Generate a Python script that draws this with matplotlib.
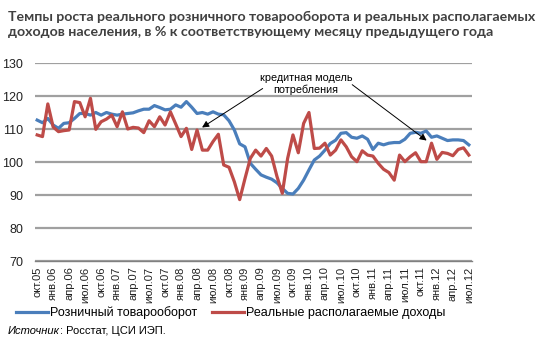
import matplotlib
matplotlib.use("Agg")
import matplotlib.pyplot as plt
import numpy as np

# monthly, Oct 2005 .. Jul 2012
retail = [112.7, 111.9, 113.2, 111.2, 110.2, 111.7, 111.9, 113.2, 114.7, 114.7,
          114.2, 115.0, 114.2, 115.0, 114.5, 114.2, 114.5, 114.7, 114.9, 115.5,
          116.0, 116.0, 117.1, 116.5, 115.8, 116.0, 117.3, 116.6, 118.3, 116.6,
          114.7, 115.0, 114.5, 115.2, 114.5, 114.3, 112.5, 109.7, 105.5, 104.6,
          99.6, 97.8, 96.1, 95.4, 94.8, 93.7, 92.0, 90.5, 90.3, 92.0,
          94.5, 97.6, 100.6, 101.8, 103.6, 105.6, 106.6, 108.7, 108.9, 107.5,
          107.2, 107.9, 106.9, 103.8, 105.7, 105.2, 105.7, 105.9, 105.9, 106.9,
          108.7, 109.0, 108.7, 109.4, 107.5, 107.9, 107.2, 106.5, 106.7, 106.7,
          106.5, 105.2]
income = [108.2, 107.7, 117.6, 110.6, 109.2, 109.5, 109.7, 118.3, 118.0, 113.7,
          119.3, 109.9, 112.2, 113.0, 114.2, 110.7, 115.2, 110.0, 110.5, 110.3,
          108.9, 112.5, 110.7, 113.7, 111.2, 115.2, 111.5, 107.7, 110.2, 103.8,
          109.7, 103.6, 103.6, 106.2, 108.4, 99.1, 98.4, 94.0, 88.6, 95.0,
          101.1, 103.6, 101.8, 104.1, 101.8, 95.6, 90.5, 101.1, 108.2, 102.8,
          111.7, 115.0, 104.1, 104.2, 105.7, 102.1, 103.6, 106.7, 104.6, 101.6,
          100.1, 103.4, 102.1, 101.8, 99.6, 97.8, 96.8, 94.5, 102.1, 100.1,
          101.6, 102.8, 100.1, 100.1, 105.7, 100.8, 102.9, 102.6, 101.9, 103.8,
          104.3, 102.1]
months = ["окт", "янв", "апр", "июл"]
first_year = 2005

n = len(retail)
x = np.arange(n)
labels = []
for i in range(0, n, 3):
    m = (9 + i) // 12
    labels.append("%s.%02d" % (months[(i // 3) % 4], (first_year + m) % 100))

plt.rcParams["font.family"] = ["Liberation Sans", "DejaVu Sans"]

W, H = 544, 348
fig = plt.figure(figsize=(W / 100, H / 100), dpi=100)
ax = fig.add_axes([34.5 / W, 1 - 261 / H, 437 / W, 198 / H])

ax.plot(x, retail, color="#4a7ebb", lw=2.3, label="Розничный товарооборот", zorder=3)
ax.plot(x, income, color="#be4b48", lw=2.3, label="Реальные располагаемые доходы", zorder=3)

ax.set_xlim(-0.5, n - 0.5)
ax.set_ylim(70, 130)
ax.set_yticks(range(70, 131, 10))
ax.grid(axis="y", color="#a0a0a0", lw=1.6)
ax.set_axisbelow(True)
for s in ["top", "right", "left"]:
    ax.spines[s].set_visible(False)
ax.spines["bottom"].set_color("#808080")
ax.spines["bottom"].set_linewidth(1.0)

ax.set_xticks(x[::3])
ax.set_xticklabels(labels, rotation=90, fontsize=8)
ax.tick_params(axis="both", length=0, colors="#222222")
ax.tick_params(axis="y", labelsize=9, pad=8)
ax.tick_params(axis="x", pad=4)

# annotation
fig.text(306 / W, 1 - 84 / H, "кредитная модель\nпотребления", ha="center", va="center",
         fontsize=7.8, linespacing=1.3)
arrow = dict(arrowstyle="-|>", color="black", lw=0.7, mutation_scale=10)
ax.annotate("", xy=(30.5, 110.0), xycoords="data",
            xytext=(265 / W, 1 - 87 / H), textcoords="figure fraction", arrowprops=arrow)
ax.annotate("", xy=(73.5, 106.0), xycoords="data",
            xytext=(350 / W, 1 - 83 / H), textcoords="figure fraction", arrowprops=arrow)

fig.text(8 / W, 1 - 11 / H,
         "Темпы роста реального розничного товарооборота и реальных располагаемых\n"
         "доходов населения, в % к соответствующему месяцу предыдущего года",
         family=["Lato", "DejaVu Sans"], fontweight="bold", fontsize=10.2, color="#404040",
         va="top", ha="left", linespacing=1.25)

fig.legend(loc="center", bbox_to_anchor=(231 / W, 1 - 313 / H), ncol=2, frameon=False,
           fontsize=9, handlelength=2.5, columnspacing=1.2, handletextpad=0.2)

# source line: italic word followed by plain text
src = fig.text(8 / W, 1 - 331 / H, "Источник", fontsize=8, style="italic", va="center")
fig.canvas.draw()
bb = src.get_window_extent(fig.canvas.get_renderer())
fig.text(bb.x1 / W, 1 - 331 / H, ": Росстат, ЦСИ ИЭП.", fontsize=8, va="center")

fig.savefig("out.png", dpi=100)
